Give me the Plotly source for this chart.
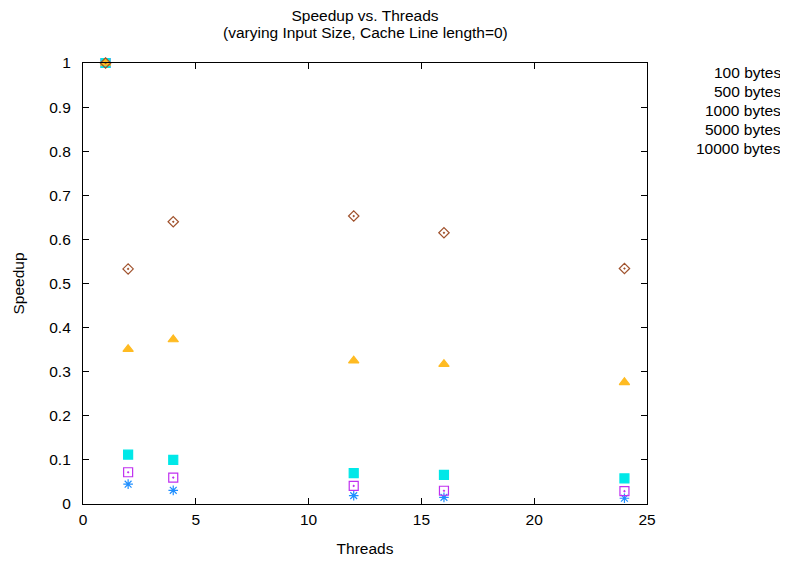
import plotly.graph_objects as go

threads = [1, 2, 4, 12, 16, 24]
labels = ["100 bytes", "500 bytes", "1000 bytes", "5000 bytes", "10000 bytes"]
speedup_100 = [1.0, 0.045, 0.031, 0.019, 0.015, 0.013]
speedup_500 = [1.0, 0.072, 0.060, 0.041, 0.030, 0.029]
speedup_1000 = [1.0, 0.112, 0.100, 0.070, 0.066, 0.058]
speedup_5000 = [1.0, 0.351, 0.373, 0.325, 0.317, 0.276]
speedup_10000 = [1.0, 0.533, 0.640, 0.653, 0.615, 0.534]
y_ticks = [0, 0.1, 0.2, 0.3, 0.4, 0.5, 0.6, 0.7, 0.8, 0.9, 1]
y_tick_text = ["0", "0.1", "0.2", "0.3", "0.4", "0.5", "0.6", "0.7", "0.8", "0.9", "1"]
x_ticks = [0, 5, 10, 15, 20, 25]

series = [speedup_100, speedup_500, speedup_1000, speedup_5000, speedup_10000]
colors = ["#1f8fff", "#c030f0", "#00e8e8", "#ffbb22", "#a0522d"]
symbols = ["asterisk-open", "square-open-dot", "square", "triangle-up", "diamond-open-dot"]
sizes = [8, 9, 9, 9, 8]

FONT = "Liberation Sans, Arial, Helvetica, sans-serif"
FS = 15.5

# the page body has an 8px default margin, so the figure is drawn 8px smaller
W, H = 780, 555
L, T, R, B = 75, 55, 141, 59

fig = go.Figure()
for name, vals, c, s, sz in zip(labels, series, colors, symbols, sizes):
    fig.add_trace(go.Scatter(
        x=threads, y=vals, mode="markers", name=name,
        marker=dict(symbol=s, color=c, size=sz, line=dict(color=c, width=1.2)),
        showlegend=False, cliponaxis=False,
    ))

# gnuplot-style text-only key at the top right
for i, name in enumerate(labels):
    fig.add_annotation(
        xref="paper", yref="paper", x=1.241, y=0.978 - i * 0.0431,
        text=name, showarrow=False, xanchor="right", yanchor="middle",
        font=dict(family=FONT, size=FS, color="black"),
    )

# second title line
fig.add_annotation(
    xref="paper", yref="paper", x=(357 - L) / (W - L - R), y=1 + (T - 25) / (H - T - B),
    text="(varying Input Size, Cache Line length=0)", showarrow=False,
    xanchor="center", yanchor="middle",
    font=dict(family=FONT, size=FS, color="black"),
)

axis_common = dict(
    showline=True, linecolor="black", linewidth=1.2, mirror="ticks",
    ticks="inside", ticklen=6, tickcolor="black", tickwidth=1,
    showgrid=False, zeroline=False, automargin=False,
    tickfont=dict(family=FONT, size=FS, color="black"),
)

fig.update_layout(
    width=W, height=H,
    margin=dict(l=L, r=R, t=T, b=B),
    paper_bgcolor="white", plot_bgcolor="white",
    title=dict(
        text="Speedup vs. Threads",
        x=357 / W, xanchor="center", xref="container",
        y=1 - 8 / H, yanchor="middle", yref="container",
        font=dict(family=FONT, size=FS, color="black"),
    ),
    xaxis=dict(range=[0, 25], tickvals=x_ticks, ticklabelstandoff=1,
               title=dict(text="Threads", standoff=16, font=dict(family=FONT, size=FS, color="black")),
               **axis_common),
    yaxis=dict(range=[0, 1], tickvals=y_ticks, ticktext=y_tick_text, ticklabelstandoff=8,
               title=dict(text="Speedup", standoff=20, font=dict(family=FONT, size=FS, color="black")),
               **axis_common),
)

fig.write_html("out.html")
